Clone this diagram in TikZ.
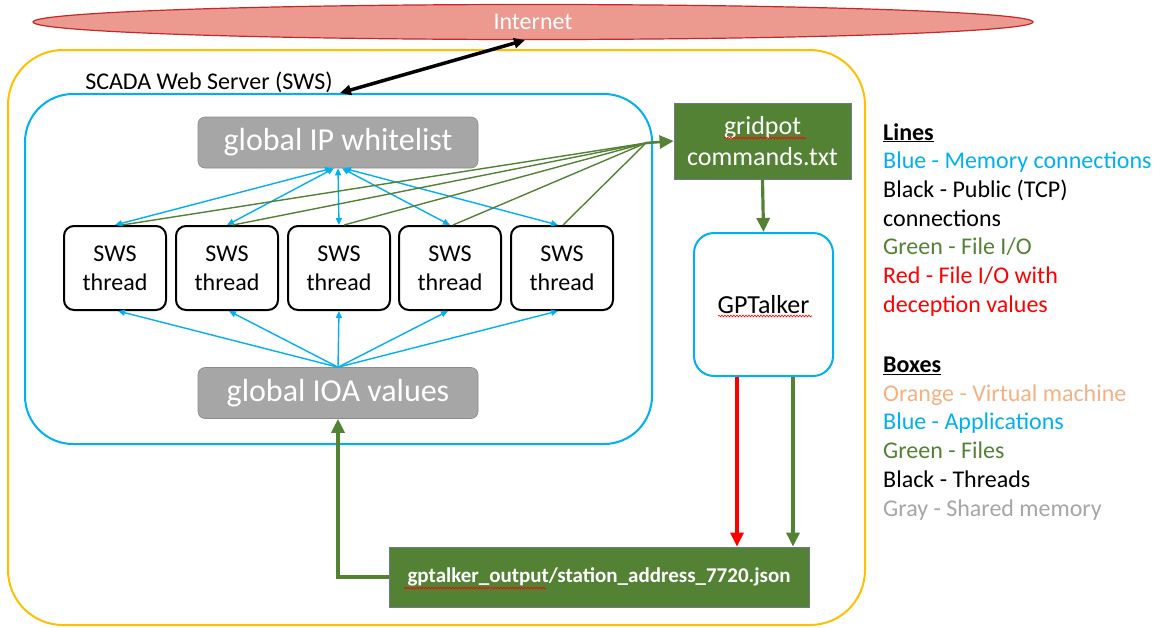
\documentclass[tikz,border=0pt]{standalone}
\usepackage{fontspec}
\setmainfont{Carlito}
\usetikzlibrary{arrows.meta,shapes.geometric,decorations.pathmorphing}
\definecolor{vmorange}{HTML}{FFC000}
\definecolor{appblue}{HTML}{00B0F0}
\definecolor{filegreen}{HTML}{548235}
\definecolor{shgray}{HTML}{A6A6A6}
\definecolor{shgrayline}{HTML}{8C8C8C}
\definecolor{netfill}{HTML}{EC9A90}
\definecolor{netdraw}{HTML}{C62828}
\definecolor{legorange}{HTML}{F4B183}
\definecolor{fileline}{HTML}{6E7B8B}
\definecolor{redline}{HTML}{FF0000}
\tikzset{
  vmbox/.style={draw=vmorange, line width=2pt, rounded corners=55pt, minimum width=857pt, minimum height=575pt, inner sep=0pt},
  appbox/.style={draw=appblue, line width=2pt, fill=white, inner sep=0pt},
  shmem/.style={draw=shgrayline, line width=0.6pt, fill=shgray, rounded corners=7pt, text=white, minimum width=280pt, minimum height=51pt, inner sep=0pt, font=\fontsize{32}{36}\selectfont},
  thr/.style={draw=black, line width=2pt, rounded corners=10pt, minimum width=102pt, minimum height=84pt, inner sep=0pt, align=center, font=\fontsize{24}{29}\selectfont},
  filebox/.style={draw=fileline, line width=0.8pt, fill=filegreen, text=white, inner sep=0pt, align=center},
  mem/.style={appblue, line width=1.4pt, {Triangle[length=7pt,width=6pt]}-{Triangle[length=7pt,width=6pt]}},
  memone/.style={appblue, line width=1.4pt, -{Triangle[length=7pt,width=6pt]}},
  fio/.style={filegreen, line width=1.4pt},
  fiothick/.style={filegreen, line width=3.2pt, -{Triangle[length=14pt,width=13pt]}},
  redio/.style={redline, line width=3.2pt, -{Triangle[length=14pt,width=13pt]}},
  leg/.style={anchor=base west, inner sep=0pt, font=\fontsize{24}{29}\selectfont},
  spell/.style={draw=redline, line width=0.6pt, decorate, decoration={snake, amplitude=0.9pt, segment length=3pt}},
}
\begin{document}
\begin{tikzpicture}[x=1pt,y=-1pt]
\useasboundingbox (0,0) rectangle (1162,627);
% internet
\node[ellipse, draw=netdraw, fill=netfill, line width=1.2pt, minimum width=1000pt, minimum height=35pt, inner sep=0pt, text=white, font=\fontsize{24}{28}\selectfont] (internet) at (533,22) {Internet};
% virtual machine
\node[vmbox] (vm) at (436.5,337.5) {};
% SWS application
\node[appbox, rounded corners=48pt, minimum width=627pt, minimum height=350pt] (sws) at (338.5,269) {};
\node[font=\fontsize{24}{29}\selectfont, inner sep=0pt] (swslabel) at (209,82) {SCADA Web Server (SWS)};
% shared memory
\node[shmem] (wl) at (338,142.5) {global IP whitelist};
\node[shmem] (ioa) at (338,393) {global IOA values};
% threads
\node[thr] (t1) at (115,268) {SWS\\thread};
\node[thr] (t2) at (227,268) {SWS\\thread};
\node[thr] (t3) at (339,268) {SWS\\thread};
\node[thr] (t4) at (450,268) {SWS\\thread};
\node[thr] (t5) at (562,268) {SWS\\thread};
% files
\node[filebox, minimum width=177pt, minimum height=76pt, font=\fontsize{26}{31}\selectfont] (cmd) at (762.5,141) {gridpot\\commands.txt};
\node[filebox, minimum width=420pt, minimum height=60pt, font=\bfseries\fontsize{21}{25}\selectfont] (out) at (599,577) {gptalker\_output/station\_address\_7720.json};
% GPTalker
\node[appbox, rounded corners=20pt, minimum width=139pt, minimum height=143pt, font=\fontsize{26}{30}\selectfont] (gpt) at (763.5,304.5) {GPTalker};
\coordinate (gp) at (646,143);
% spell-check marks
\draw[spell] (724,138) -- (806,138);
\draw[spell] (718,316) -- (812,316);
\draw[spell] (404,588) -- (546,588);
% public connection
\draw[line width=3.5pt, {Triangle[length=11pt,width=10pt]}-{Triangle[length=11pt,width=10pt]}] ([xshift=1.5pt]sws.north) -- ([xshift=-8pt]internet.south);
% memory connections whitelist <-> threads
\draw[mem] ([xshift=-6pt]wl.south) -- (t1.north);
\draw[mem] ([xshift=-4pt]wl.south) -- (t2.north);
\draw[mem] (wl.south) -- (t3.north);
\draw[mem] ([xshift=4pt]wl.south) -- (t4.north);
\draw[mem] ([xshift=6pt]wl.south) -- ([xshift=-4pt]t5.north);
% memory IOA -> threads
\draw[memone] (ioa.north) -- ([xshift=3pt]t1.south);
\draw[memone] (ioa.north) -- ([xshift=2pt]t2.south);
\draw[memone] (ioa.north) -- (t3.south);
\draw[memone] (ioa.north) -- ([xshift=-2pt]t4.south);
\draw[memone] (ioa.north) -- ([xshift=-4pt]t5.south);
% file I/O threads -> commands
\draw[fio] ([xshift=7pt]t1.north) -- (gp);
\draw[fio] ([xshift=6pt]t2.north) -- (gp);
\draw[fio] ([xshift=5pt]t3.north) -- (gp);
\draw[fio] ([xshift=3pt]t4.north) -- (gp);
\draw[fio] ([xshift=1pt]t5.north) -- (gp);
\draw[fiothick, line width=2.6pt] (gp) -- (cmd.west);
\draw[fiothick] (cmd.south) -- (gpt.north);
\draw[redio] ([xshift=-26.5pt]gpt.south) -- ([xshift=-26.5pt]gpt.south |- out.north);
\draw[fiothick] ([xshift=29.5pt]gpt.south) -- ([xshift=29.5pt]gpt.south |- out.north);
\draw[fiothick] (out.west) -| (ioa.south);
% legend
\node[leg, font=\bfseries\fontsize{24}{29}\selectfont] (l0) at (883,140) {\underline{Lines}};
\node[leg, text=appblue] (l1) at (883,168.7) {Blue - Memory connections};
\node[leg] (l2) at (883,197.4) {Black - Public (TCP)};
\node[leg] (l3) at (883,226.1) {connections};
\node[leg, text=filegreen] (l4) at (883,254.8) {Green - File I/O};
\node[leg, text=redline] (l5) at (883,283.5) {Red - File I/O with};
\node[leg, text=redline] (l6) at (883,312.2) {deception values};
\node[leg, font=\bfseries\fontsize{24}{29}\selectfont] (b0) at (883,372.5) {\underline{Boxes}};
\node[leg, text=legorange] (b1) at (883,401.2) {Orange - Virtual machine};
\node[leg, text=appblue] (b2) at (883,429.9) {Blue - Applications};
\node[leg, text=filegreen] (b3) at (883,458.6) {Green - Files};
\node[leg] (b4) at (883,487.3) {Black - Threads};
\node[leg, text=shgray] (b5) at (883,516) {Gray - Shared memory};
\end{tikzpicture}
\end{document}
